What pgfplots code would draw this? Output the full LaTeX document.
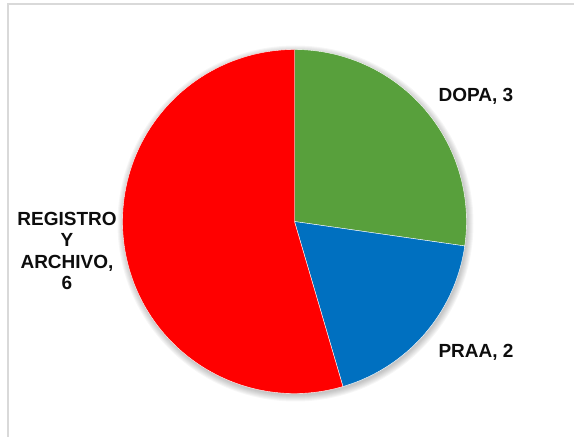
\documentclass[border=0pt]{standalone}
\usepackage{pgfplots}
\pgfplotsset{compat=1.18}
\usepackage{fontspec}
\setmainfont{Liberation Sans}
\definecolor{dopa}{HTML}{58A03C}
\definecolor{praa}{HTML}{0070C0}
\definecolor{regi}{HTML}{FF0000}
\definecolor{frame}{HTML}{D9D9D9}
% data
\def\vDOPA{3}
\def\vPRAA{2}
\def\vREG{6}
\pgfmathsetmacro\tot{\vDOPA+\vPRAA+\vREG}
\pgfmathsetmacro\aA{90}
\pgfmathsetmacro\aB{\aA-360*\vDOPA/\tot}
\pgfmathsetmacro\aC{\aB-360*\vPRAA/\tot}
\pgfmathsetmacro\aD{\aC-360*\vREG/\tot}
\def\R{172pt}
\begin{document}
\begin{tikzpicture}
\begin{axis}[
  hide axis, scale only axis,
  width=574pt, height=437pt,
  xmin=0, xmax=574, ymin=0, ymax=437,
  clip=false,
]
\coordinate (sw) at (axis cs:0,0);
\coordinate (ne) at (axis cs:574,437);
% chart frame
\draw[frame, line width=2pt] (axis cs:7.5,0) -- (axis cs:7.5,433) -- (axis cs:574,433);
% soft shadow
\pgfplotsinvokeforeach{172,173,174,175,176,177,178}{
  \fill[black, opacity=0.035] (axis cs:295.5,213.5) circle[radius=#1pt];
}
% slices
\fill[dopa, draw=white, line width=0.4pt] (axis cs:294.5,215.5) -- ++(\aA:\R) arc[start angle=\aA, end angle=\aB, radius=\R] -- cycle;
\fill[praa, draw=white, line width=0.4pt] (axis cs:294.5,215.5) -- ++(\aB:\R) arc[start angle=\aB, end angle=\aC, radius=\R] -- cycle;
\fill[regi, draw=white, line width=0.4pt] (axis cs:294.5,215.5) -- ++(\aC:\R) arc[start angle=\aC, end angle=\aD, radius=\R] -- cycle;
% labels
\node[font=\bfseries\fontsize{19}{21.4}\selectfont, text=black!95] at (axis cs:476,341) {DOPA, \vDOPA};
\node[font=\bfseries\fontsize{19}{21.4}\selectfont, text=black!95] at (axis cs:476,85) {PRAA, \vPRAA};
\node[font=\bfseries\fontsize{19}{21.4}\selectfont, text=black!95, align=center] at (axis cs:67,186) {REGISTRO\\Y\\ARCHIVO,\\\vREG};
\end{axis}
\pgfresetboundingbox
\useasboundingbox (sw) rectangle (ne);
\end{tikzpicture}
\end{document}
